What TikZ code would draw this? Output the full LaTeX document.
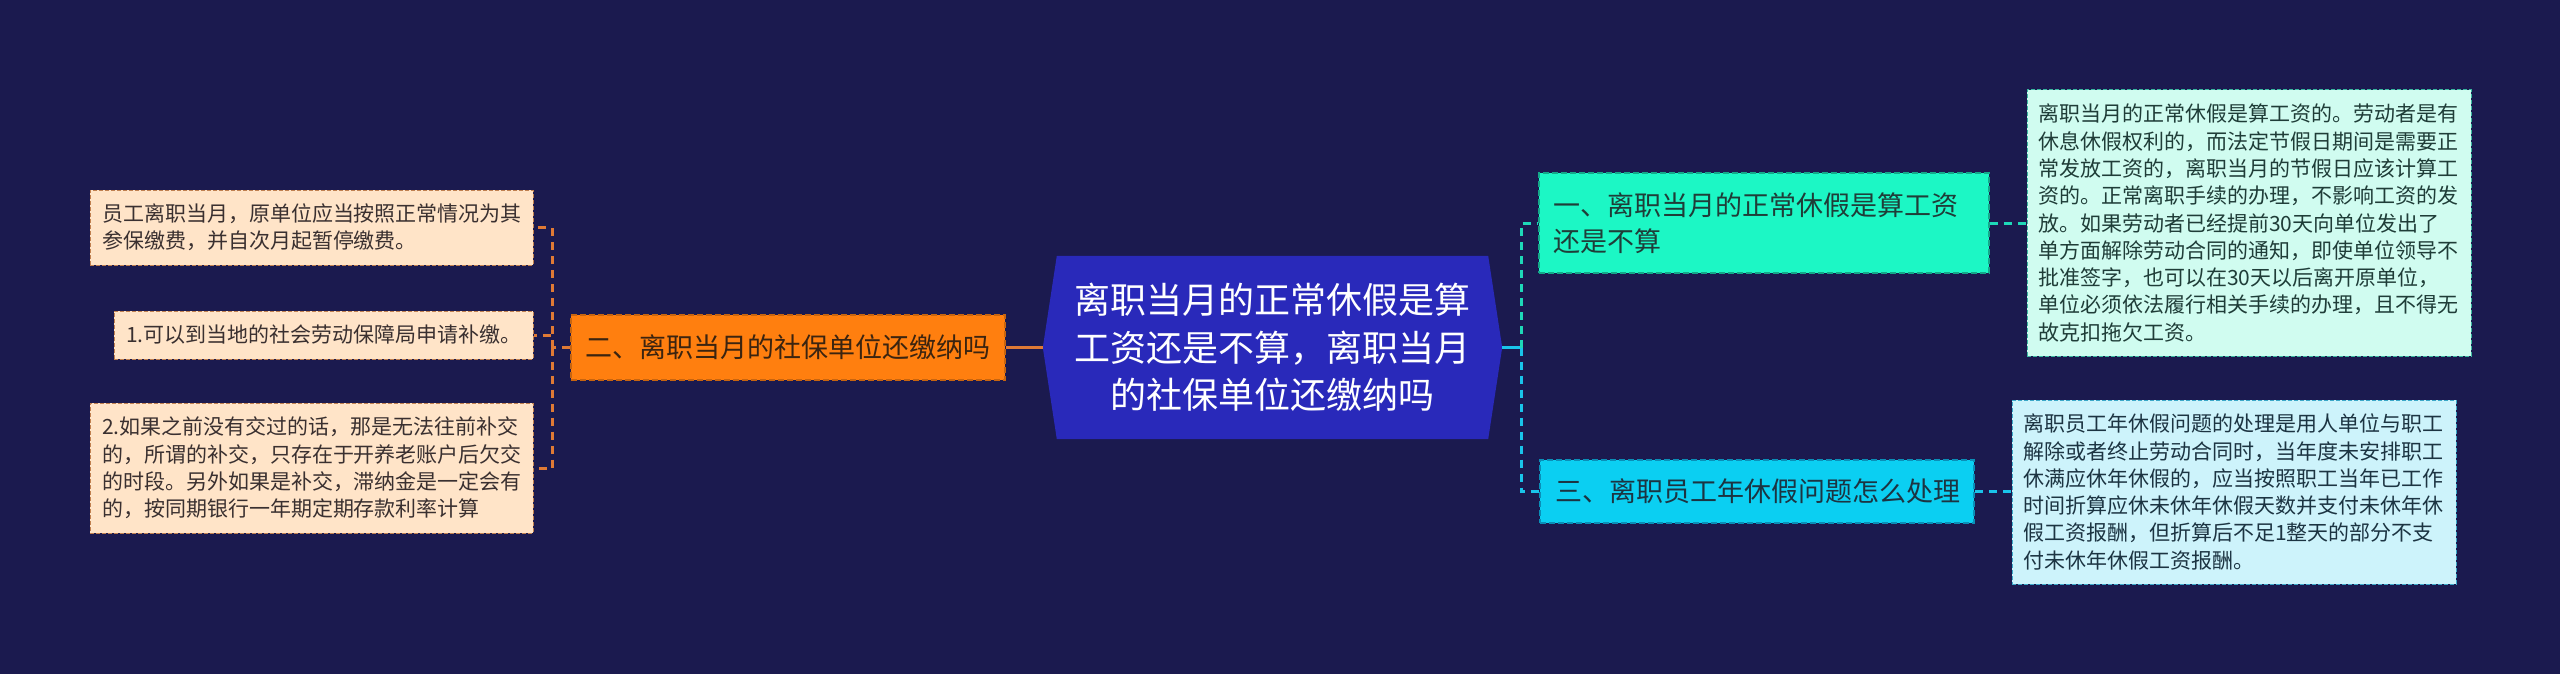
\documentclass[tikz,border=0pt]{standalone}
\usepackage{fontspec}
\newfontfamily\cjk{Noto Sans CJK SC}
\setmainfont{Noto Sans CJK SC}
\pgfdeclarelayer{back}
\pgfdeclarelayer{mid}
\pgfsetlayers{back,mid,main}
\definecolor{bgc}{HTML}{1B1A4F}
\definecolor{hexc}{HTML}{2929BA}
\definecolor{orf}{HTML}{FF7F0F}
\definecolor{ord}{HTML}{C8650F}
\definecolor{ort}{HTML}{3B2410}
\definecolor{pef}{HTML}{FFE4C8}
\definecolor{ped}{HTML}{C08050}
\definecolor{pet}{HTML}{3A3030}
\definecolor{mif}{HTML}{1CF7C5}
\definecolor{mid}{HTML}{14A88A}
\definecolor{mit}{HTML}{1F3D38}
\definecolor{mlf}{HTML}{D0FCF0}
\definecolor{mld}{HTML}{3AB8A0}
\definecolor{cyf}{HTML}{0BCFF2}
\definecolor{cyd}{HTML}{0A8FB8}
\definecolor{cyt}{HTML}{1C3442}
\definecolor{clf}{HTML}{CDF3FB}
\definecolor{cld}{HTML}{3BA8C8}
\definecolor{lorc}{HTML}{E07A35}
\definecolor{lmic}{HTML}{1ED8B8}
\definecolor{lcyc}{HTML}{19C4EA}
\tikzset{
  mainbox/.style={draw, dash pattern=on 6pt off 3pt, line width=1.5pt, inner ysep=0pt, align=left,
    font=\cjk\fontsize{27}{36}\selectfont, anchor=center},
  leafbox/.style={draw, dash pattern=on 4pt off 2pt, line width=1pt, inner xsep=12pt, inner ysep=0pt,
    align=left, font=\cjk\fontsize{21}{27.3}\selectfont, anchor=center},
  conn/.style={line width=3pt, dash pattern=on 8pt off 6pt},
}
\begin{document}
\begin{tikzpicture}[x=1pt,y=-1pt]
\useasboundingbox (0,0) rectangle (2560,674);
\begin{pgfonlayer}{back}
\fill[bgc] (0,0) rectangle (2560,674);
\end{pgfonlayer}

% central node
\node[minimum width=431pt, minimum height=183pt, inner sep=0pt, align=center, text=white,
  font=\cjk\fontsize{36}{47.5}\selectfont] (c) at (1272.5,347.5)
  {离职当月的正常休假是算\\工资还是不算，离职当月\\的社保单位还缴纳吗};
\begin{pgfonlayer}{mid}
\fill[hexc] (c.north west) -- (c.north east) -- ([xshift=14pt]c.east) -- (c.south east)
  -- (c.south west) -- ([xshift=-14pt]c.west) -- cycle;
\end{pgfonlayer}
\coordinate (cR) at ([xshift=14pt]c.east);
\coordinate (cL) at ([xshift=-14pt]c.west);

% left branch
\node[mainbox, fill=orf, draw=ord, text=ort, inner xsep=14pt, text width=406pt, minimum height=65pt] (o) at (788,347.5)
  {二、离职当月的社保单位还缴纳吗};
\node[leafbox, fill=pef, draw=ped, text=pet, text width=419pt, minimum height=75pt] (l1) at (311.5,227.5)
  {员工离职当月，原单位应当按照正常情况为其\\参保缴费，并自次月起暂停缴费。};
\node[leafbox, fill=pef, draw=ped, text=pet, text width=395pt, minimum height=48pt, align=center] (l2) at (323.5,335)
  {1.可以到当地的社会劳动保障局申请补缴。};
\node[leafbox, fill=pef, draw=ped, text=pet, text width=419pt, minimum height=130pt] (l3) at (311.5,468)
  {2.如果之前没有交过的话，那是无法往前补交\\的，所谓的补交，只存在于开养老账户后欠交\\的时段。另外如果是补交，滞纳金是一定会有\\的，按同期银行一年期定期存款利率计算};

\coordinate (lb) at (552,347.5);
\draw[lorc, line width=3pt] (o.east) -- (cL);
\draw[conn, lorc] (o.west) -- (lb);
\draw[conn, lorc] (lb) |- (l1.east);
\draw[conn, lorc] (lb) |- (l2.east);
\draw[conn, lorc] (lb) |- (l3.east);

% right branch
\node[mainbox, fill=mif, draw=mid, text=mit, inner xsep=14pt, text width=422pt, minimum height=100pt] (n1) at (1764,223)
  {一、离职当月的正常休假是算工资\\还是不算};
\node[mainbox, fill=cyf, draw=cyd, text=cyt, inner xsep=15pt, text width=404pt, minimum height=63pt] (n3) at (1757,491.5)
  {三、离职员工年休假问题怎么处理};
\node[leafbox, fill=mlf, draw=mld, text=mit, inner xsep=11pt, text width=422pt, minimum height=266pt] (r1) at (2249,223)
  {离职当月的正常休假是算工资的。劳动者是有\\休息休假权利的，而法定节假日期间是需要正\\常发放工资的，离职当月的节假日应该计算工\\资的。正常离职手续的办理，不影响工资的发\\放。如果劳动者已经提前30天向单位发出了\\单方面解除劳动合同的通知，即使单位领导不\\批准签字，也可以在30天以后离开原单位，\\单位必须依法履行相关手续的办理，且不得无\\故克扣拖欠工资。};
\node[leafbox, fill=clf, draw=cld, text=cyt, inner xsep=11pt, text width=422pt, minimum height=184pt] (r2) at (2234,492)
  {离职员工年休假问题的处理是用人单位与职工\\解除或者终止劳动合同时，当年度未安排职工\\休满应休年休假的，应当按照职工当年已工作\\时间折算应休未休年休假天数并支付未休年休\\假工资报酬，但折算后不足1整天的部分不支\\付未休年休假工资报酬。};

\coordinate (rb) at (1521,347.5);
\draw[lcyc, line width=3pt] (cR) -- (rb);
\draw[conn, lmic] (rb) |- (n1.west);
\draw[conn, lcyc] (rb) |- (n3.west);
\draw[conn, lmic] (n1.east) -- (r1.west);
\draw[conn, lcyc] (n3.east) -- (n3.east -| r2.west);
\end{tikzpicture}
\end{document}
